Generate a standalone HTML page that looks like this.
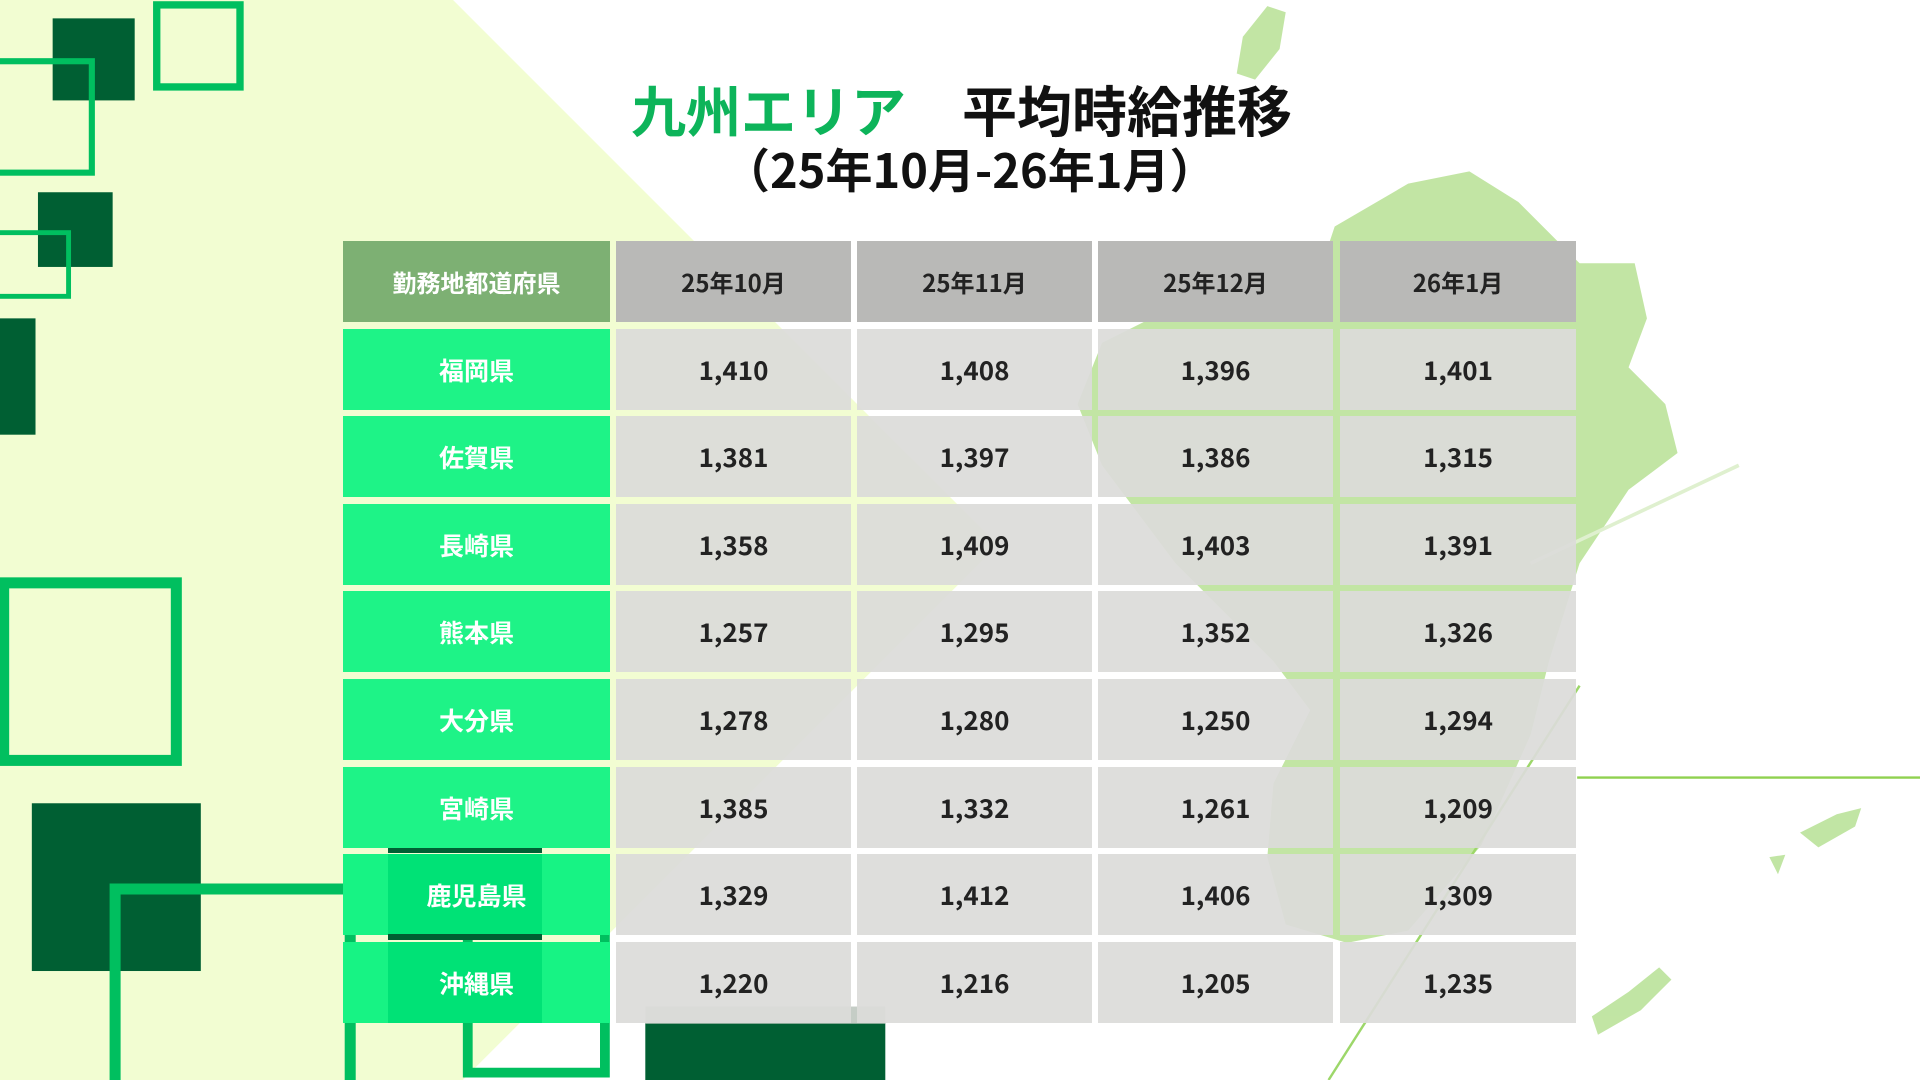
<!DOCTYPE html>
<html><head><meta charset="utf-8"><style>
html,body{margin:0;padding:0}
body{width:1920px;height:1080px;position:relative;overflow:hidden;background:#fff;font-family:"Liberation Sans","Noto Sans CJK JP",sans-serif}
svg.bg{position:absolute;left:0;top:0}
.c{position:absolute;display:flex;align-items:center;justify-content:center;font-weight:bold;font-family:"Noto Sans CJK JP",sans-serif}
.h1{background:#7db073;color:#fff;font-size:24px}
.hg{background:#b9b9b7;color:#222;font-size:24px}
.pg{background:rgba(23,243,132,0.97);color:#fff;font-size:25px}
.v{background:rgba(220,220,217,0.93);color:#222;font-size:26px}
.t{position:absolute;font-family:"Noto Sans CJK JP",sans-serif;font-weight:bold;white-space:nowrap}
</style></head><body>
<svg class="bg" width="1920" height="1080" viewBox="0 0 1568 882" preserveAspectRatio="none">
<polygon points="0,0 370,0 815,445 378,882 0,882" fill="#f2fdd2"/>
<g fill="#8fd05a" opacity="0.55">
<polygon points="1090,185 1150,150 1200,140 1240,165 1290,215 1335,215 1345,260 1330,300 1360,330 1370,370 1330,400 1290,460 1265,540 1250,600 1210,690 1150,760 1100,770 1050,755 1035,700 1040,640 1070,580 1040,540 1000,500 960,460 930,420 900,380 880,330 900,280 960,250 1030,230 1080,215"/>
<polygon points="1015,30 1035,5 1050,10 1045,40 1025,65 1010,60" />
<polygon points="1470,680 1500,665 1520,660 1515,675 1485,692"/>
<polygon points="1300,830 1330,810 1355,790 1365,800 1340,825 1305,845"/>
<polygon points="1445,700 1458,698 1452,714"/>
</g>
<line x1="1288" y1="635" x2="1568" y2="635" stroke="#8fd14f" stroke-width="2"/>
<line x1="1085" y1="882" x2="1290" y2="560" stroke="#9dd76a" stroke-width="2"/>
<line x1="1250" y1="460" x2="1420" y2="380" stroke="#dff0cf" stroke-width="3"/>
<rect x="43" y="15" width="67" height="67" fill="#005f33"/>
<rect x="128" y="4" width="68" height="67" fill="none" stroke="#00bf5f" stroke-width="6"/>
<rect x="-10" y="50" width="85" height="91" fill="none" stroke="#00bf5f" stroke-width="5"/>
<rect x="31" y="157" width="61" height="61" fill="#005f33"/>
<rect x="-10" y="190" width="66" height="52" fill="none" stroke="#00bf5f" stroke-width="4"/>
<rect x="0" y="260" width="29" height="95" fill="#005f33"/>
<rect x="3" y="476" width="141" height="145" fill="none" stroke="#00bf5f" stroke-width="9"/>
<rect x="26" y="656" width="138" height="137" fill="#005f33"/>
<path d="M94,890 L94,726 L286,726 L286,890" fill="none" stroke="#00bf5f" stroke-width="9"/>
<path d="M382,760 L382,876 L494,876 L494,760" fill="none" stroke="#00bf5f" stroke-width="8"/>
<rect x="527" y="835" width="196" height="50" fill="#005f33"/>
<rect x="527" y="822" width="196" height="14" fill="#c5cdc6"/>
</svg>

<div class="t" style="left:631px;top:68px;font-size:55px;color:#0db45a">九州エリア</div>
<div class="t" style="left:962px;top:68px;font-size:55px;color:#111">平均時給推移</div>
<div class="t" style="left:723px;top:133px;font-size:47px;color:#111">（25年10月-26年1月）</div>

<div class="c h1" style="left:343px;top:241px;width:267px;height:81px">勤務地都道府県</div>
<div class="c hg" style="left:616px;top:241px;width:235px;height:81px">25年10月</div>
<div class="c hg" style="left:857px;top:241px;width:235px;height:81px">25年11月</div>
<div class="c hg" style="left:1098px;top:241px;width:235px;height:81px">25年12月</div>
<div class="c hg" style="left:1340px;top:241px;width:236px;height:81px">26年1月</div>

<div id="rows"></div>
<div style="position:absolute;left:388px;top:848px;width:154px;height:5px;background:#005f33"></div>
<div style="position:absolute;left:388px;top:934px;width:154px;height:6px;background:#005f33"></div>
<script>
var d=[["福岡県","1,410","1,408","1,396","1,401"],["佐賀県","1,381","1,397","1,386","1,315"],["長崎県","1,358","1,409","1,403","1,391"],["熊本県","1,257","1,295","1,352","1,326"],["大分県","1,278","1,280","1,250","1,294"],["宮崎県","1,385","1,332","1,261","1,209"],["鹿児島県","1,329","1,412","1,406","1,309"],["沖縄県","1,220","1,216","1,205","1,235"]];
var L=[343,616,857,1098,1340],W=[267,235,235,235,236],h="";
for(var i=0;i<8;i++){var t=Math.round(328.6+87.6*i);for(var j=0;j<5;j++){var st='';
if(j==0&&i>=6){st='background:linear-gradient(to right,#17f384 45px,#00e276 45px,#00e276 199px,#17f384 199px);';}
h+='<div class="c '+(j?'v':'pg')+'" style="'+st+'left:'+L[j]+'px;top:'+t+'px;width:'+W[j]+'px;height:81px">'+d[i][j]+'</div>';}}
document.getElementById("rows").outerHTML=h;
</script>
</body></html>
